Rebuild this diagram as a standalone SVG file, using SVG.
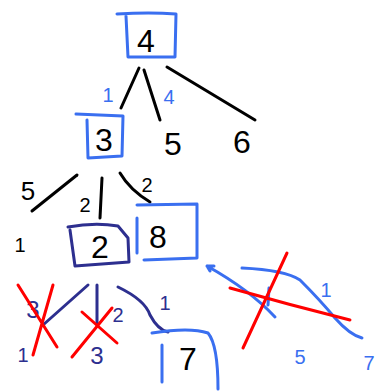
<svg xmlns="http://www.w3.org/2000/svg" width="377" height="392" viewBox="0 0 377 392">
<style>
.k{stroke:#000;fill:none;stroke-width:3;stroke-linecap:round;stroke-linejoin:round}
.b{stroke:#3a6ff0;fill:none;stroke-width:3;stroke-linecap:round;stroke-linejoin:round}
.n{stroke:#2d2f8f;fill:none;stroke-width:3;stroke-linecap:round;stroke-linejoin:round}
.r{stroke:#ff0000;fill:none;stroke-width:3;stroke-linecap:round}
text{font-family:"Liberation Sans",Arial,sans-serif;text-anchor:middle}
.big{font-size:32px;fill:#000}
.sm{font-size:20px}
.tk{fill:#000}.tb{fill:#3a6ff0}.tn{fill:#2d2f8f}
</style>
<rect width="377" height="392" fill="#fff"/>
<g id="connectors">
<path class="k" d="M139 68 L121 108"/>
<path class="k" d="M144 70 L160 120"/>
<path class="k" d="M167 67 L255 120"/>
<path class="k" d="M77 175 L32 211"/>
<path class="k" d="M102 178 L100 218"/>
<path class="k" d="M120 173 Q130 190 150 202"/>
<path class="n" d="M88 285 L43 325"/>
<path class="n" d="M97 285 L97 325"/>
<path class="n" d="M118 287 Q145 300 150 315 Q158 330 168 332"/>
<path class="b" d="M275 317 Q250 290 207 266 M207 266 L214 266 M207 266 L210 271"/>
<path class="b" d="M242 268 Q285 270 300 280 Q320 300 335 318 Q350 335 362 338"/>
<path class="b" d="M269 288 L268 305"/>
</g>
<g id="labels">
<text class="sm tb" x="108" y="102">1</text>
<text class="sm tb" x="169" y="104">4</text>
<text class="big tk" x="28" y="200" style="font-size:26px">5</text>
<text class="sm tk" x="85" y="212">2</text>
<text class="sm tk" x="147" y="192">2</text>
<text class="sm tk" x="20" y="252">1</text>
<text class="sm tn" x="33" y="318" style="font-size:24px">3</text>
<text class="sm tn" x="23" y="362">1</text>
<text class="sm tn" x="118" y="322">2</text>
<text class="sm tn" x="97" y="364" style="font-size:24px">3</text>
<text class="sm tn" x="165" y="310">1</text>
<text class="sm tb" x="326" y="297">1</text>
<text class="sm tb" x="300" y="364">5</text>
<text class="sm tb" x="369" y="370">7</text>
</g>
<g id="node-4">
<path class="b" d="M117 14 Q150 12 176 14 L175 57 L128 57 L126 16"/>
<text class="big" x="146" y="52">4</text>
</g>
<g id="node-3">
<path class="b" d="M76 114 L123 116 L122 156 L88 158 L87 120"/>
<text class="big" x="104" y="151">3</text>
</g>
<g id="node-5">
<text class="big" x="173" y="155">5</text>
</g>
<g id="node-6">
<text class="big" x="242" y="153">6</text>
</g>
<g id="node-2">
<path class="n" d="M68 227 Q95 222 118 226 L128 238 L129 262 L75 266 L70 230"/>
<text class="big" x="100" y="258">2</text>
</g>
<g id="node-8">
<path class="b" d="M137 205 L197 204 L197 258 L144 260 M137 218 L137 253"/>
<text class="big" x="158" y="248">8</text>
</g>
<g id="node-7">
<path class="b" d="M152 333 Q190 327 208 333 Q218 345 218 389 M162 345 L162 382"/>
<text class="big" x="188" y="370">7</text>
</g>
<g id="crosses">
<path class="r" d="M18 285 L57 347 M53 285 L33 355"/>
<path class="r" d="M82 312 L117 343 M112 308 L72 357"/>
<path class="r" d="M287 253 L243 348 M230 288 Q290 305 350 320"/>
</g>
</svg>
